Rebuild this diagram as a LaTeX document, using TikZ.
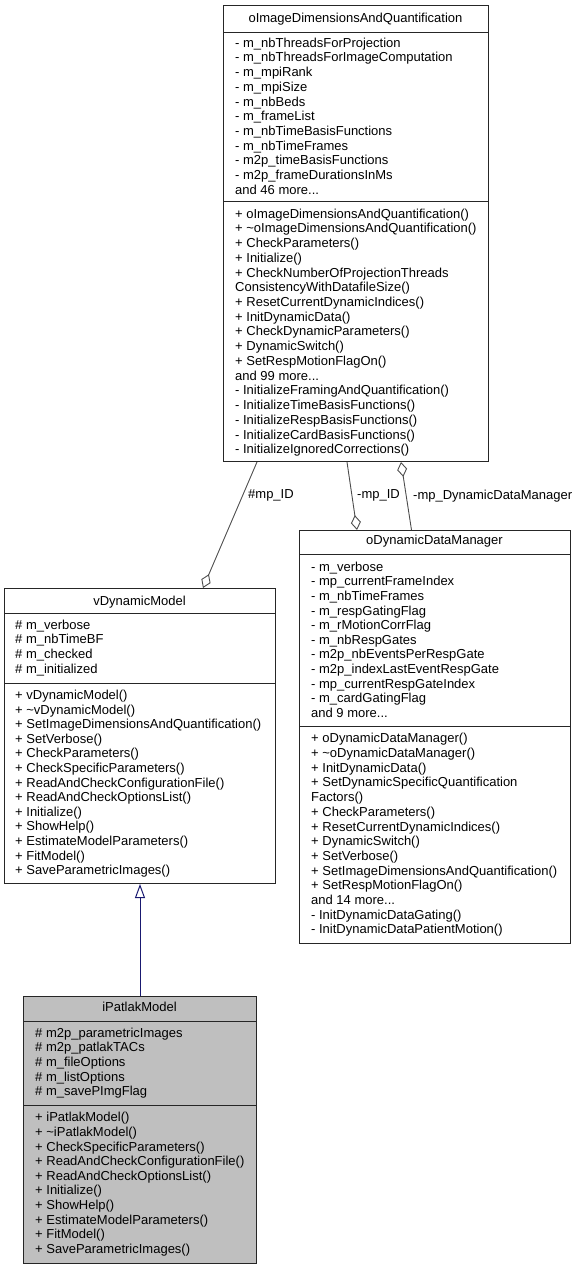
\documentclass[tikz,border=0pt]{standalone}
\usepackage{fontspec}
\setmainfont{Liberation Sans}
\usetikzlibrary{arrows.meta}

\definecolor{midnightblue}{RGB}{25,25,112}
\definecolor{boxgray}{RGB}{191,191,191}

\tikzset{
  classbox/.style={draw=black!85, line width=1pt, inner sep=0pt, anchor=north west},
  member/.style={anchor=base west, inner sep=0pt, font=\fontsize{13}{14.7}\selectfont},
  cname/.style={anchor=base, inner sep=0pt, font=\fontsize{13}{14.7}\selectfont},
  lbl/.style={anchor=base west, inner sep=0pt, font=\fontsize{13}{14.7}\selectfont},
  assoc/.style={draw=black!70, line width=0.9pt, -{Diamond[open,length=15pt,width=10pt]}},
  inherit/.style={draw=midnightblue, line width=1pt, -{Triangle[open,length=14pt,width=10pt]}}
}

\begin{document}
\begin{tikzpicture}[x=1pt,y=-1pt]
\useasboundingbox (0,0) rectangle (577,1269);

% boxes
\node[classbox, minimum width=265pt, minimum height=456pt] (img) at (223,5) {};
\node[classbox, minimum width=271pt, minimum height=295pt] (dyn) at (4,588) {};
\node[classbox, minimum width=271pt, minimum height=413pt] (ddm) at (299,530) {};
\node[classbox, fill=boxgray, minimum width=233pt, minimum height=267pt] (pat) at (23,996) {};

% separators
\draw[line width=1pt, black!85] (223,32) -- (488,32) (223,201.7) -- (488,201.7);
\draw[line width=1pt, black!85] (4,613) -- (275,613) (4,683) -- (275,683);
\draw[line width=1pt, black!85] (299,554) -- (570,554) (299,726.7) -- (570,726.7);
\draw[line width=1pt, black!85] (23,1021) -- (256,1021) (23,1105) -- (256,1105);

% oImageDimensionsAndQuantification
\node[cname] (imgname) at (355.5,22.5) {oImageDimensionsAndQuantification};
\foreach \t [count=\i from 0] in {
  - m\_nbThreadsForProjection, - m\_nbThreadsForImageComputation, - m\_mpiRank,
  - m\_mpiSize, - m\_nbBeds, - m\_frameList, - m\_nbTimeBasisFunctions,
  - m\_nbTimeFrames, - m2p\_timeBasisFunctions, - m2p\_frameDurationsInMs,
  and 46 more.{}.{}.}
  \node[member] (imga\i) at (235,47.2+14.72*\i) {\t};
\foreach \t [count=\i from 0] in {
  + oImageDimensionsAndQuantification(), + \textasciitilde oImageDimensionsAndQuantification(),
  + CheckParameters(), + Initialize(), + CheckNumberOfProjectionThreads,
  ConsistencyWithDatafileSize(), + ResetCurrentDynamicIndices(), + InitDynamicData(),
  + CheckDynamicParameters(), + DynamicSwitch(), + SetRespMotionFlagOn(),
  and 99 more.{}.{}., - InitializeFramingAndQuantification(), - InitializeTimeBasisFunctions(),
  - InitializeRespBasisFunctions(), - InitializeCardBasisFunctions(),
  - InitializeIgnoredCorrections()}
  \node[member] (imgm\i) at (235,218.2+14.72*\i) {\t};

% vDynamicModel
\node[cname] (dynname) at (139.5,605.5) {vDynamicModel};
\foreach \t [count=\i from 0] in {
  \# m\_verbose, \# m\_nbTimeBF, \# m\_checked, \# m\_initialized}
  \node[member] (dyna\i) at (15,629+14.72*\i) {\t};
\foreach \t [count=\i from 0] in {
  + vDynamicModel(), + \textasciitilde vDynamicModel(), + SetImageDimensionsAndQuantification(),
  + SetVerbose(), + CheckParameters(), + CheckSpecificParameters(),
  + ReadAndCheckConfigurationFile(), + ReadAndCheckOptionsList(), + Initialize(),
  + ShowHelp(), + EstimateModelParameters(), + FitModel(), + SaveParametricImages()}
  \node[member] (dynm\i) at (15,699.5+14.6*\i) {\t};

% oDynamicDataManager
\node[cname] (ddmname) at (434.5,544.5) {oDynamicDataManager};
\foreach \t [count=\i from 0] in {
  - m\_verbose, - mp\_currentFrameIndex, - m\_nbTimeFrames, - m\_respGatingFlag,
  - m\_rMotionCorrFlag, - m\_nbRespGates, - m2p\_nbEventsPerRespGate,
  - m2p\_indexLastEventRespGate, - mp\_currentRespGateIndex, - m\_cardGatingFlag,
  and 9 more.{}.{}.}
  \node[member] (ddma\i) at (311,571.2+14.6*\i) {\t};
\foreach \t [count=\i from 0] in {
  + oDynamicDataManager(), + \textasciitilde oDynamicDataManager(), + InitDynamicData(),
  + SetDynamicSpecificQuantification, Factors(), + CheckParameters(),
  + ResetCurrentDynamicIndices(), + DynamicSwitch(), + SetVerbose(),
  + SetImageDimensionsAndQuantification(), + SetRespMotionFlagOn(), and 14 more.{}.{}.,
  - InitDynamicDataGating(), - InitDynamicDataPatientMotion()}
  \node[member] (ddmm\i) at (311,742.8+14.7*\i) {\t};

% iPatlakModel
\node[cname] (patname) at (139.5,1011.8) {iPatlakModel};
\foreach \t [count=\i from 0] in {
  \# m2p\_parametricImages, \# m2p\_patlakTACs, \# m\_fileOptions,
  \# m\_listOptions, \# m\_savePImgFlag}
  \node[member] (pata\i) at (35,1037.2+14.6*\i) {\t};
\foreach \t [count=\i from 0] in {
  + iPatlakModel(), + \textasciitilde iPatlakModel(), + CheckSpecificParameters(),
  + ReadAndCheckConfigurationFile(), + ReadAndCheckOptionsList(), + Initialize(),
  + ShowHelp(), + EstimateModelParameters(), + FitModel(), + SaveParametricImages()}
  \node[member] (patm\i) at (35,1121.8+14.6*\i) {\t};

% connectors
\draw[assoc] ([xshift=34pt]img.south west) -- ([xshift=199pt]dyn.north west);
\draw[assoc] ([xshift=124pt]img.south west) -- ([xshift=58pt]ddm.north west);
\draw[assoc] ([xshift=112.5pt]ddm.north west) -- ([xshift=178pt]img.south west);
\draw[inherit] (pat.north) -- (dyn.south);

\node[lbl] (l1) at (248,498.5) {\#mp\_ID};
\node[lbl] (l2) at (357,498.5) {-mp\_ID};
\node[lbl] (l3) at (413,499) {-mp\_DynamicDataManager};
\end{tikzpicture}
\end{document}
